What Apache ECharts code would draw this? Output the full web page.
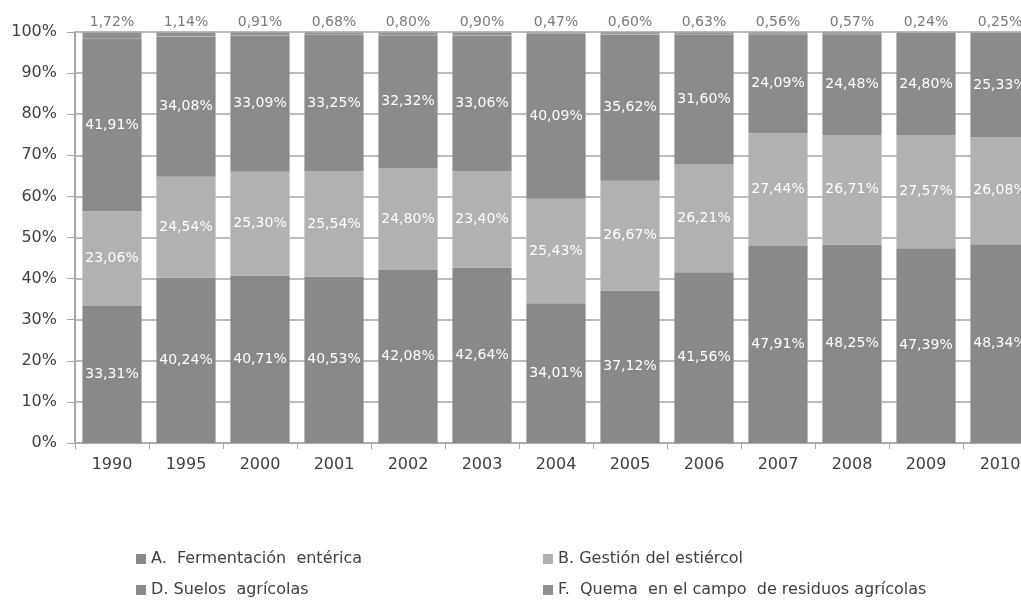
<!DOCTYPE html>
<html><head><meta charset="utf-8">
<script src="https://cdn.jsdelivr.net/npm/echarts@6/dist/echarts.min.js"></script>
<style>html,body{margin:0;padding:0;background:#fff;overflow:hidden;}#c{width:1037px;height:600px;}</style>
</head><body><div id="c"></div>
<script>
const years = ['1990','1995','2000','2001','2002','2003','2004','2005','2006','2007','2008','2009','2010'];
const seriesNames = ['A.  Fermentación  entérica','B. Gestión del estiércol','D. Suelos  agrícolas','F.  Quema  en el campo  de residuos agrícolas'];
const serA = [33.31,40.24,40.71,40.53,42.08,42.64,34.01,37.12,41.56,47.91,48.25,47.39,48.34];
const serB = [23.06,24.54,25.30,25.54,24.80,23.40,25.43,26.67,26.21,27.44,26.71,27.57,26.08];
const serD = [41.91,34.08,33.09,33.25,32.32,33.06,40.09,35.62,31.60,24.09,24.48,24.80,25.33];
const serF = [1.72,1.14,0.91,0.68,0.80,0.90,0.47,0.60,0.63,0.56,0.57,0.24,0.25];
const yTicks = [0,10,20,30,40,50,60,70,80,90,100];

const fmt = v => v.toFixed(2).replace('.', ',') + '%';
const font = 'DejaVu Sans, Verdana, sans-serif';
const inLabel = {show:true, position:'inside', color:'#fff', fontSize:14, fontFamily:font, formatter:p=>fmt(p.value)};

const legendBase = {orient:'vertical', top:551, height:48, padding:[0,5], itemGap:15, itemWidth:10, itemHeight:10, icon:'rect',
  itemStyle:{borderWidth:0}, textStyle:{fontSize:16, color:'#404040', fontFamily:font}};

const chart = echarts.init(document.getElementById('c'));
chart.setOption({
  animation:false,
  grid:{left:75, right:0, top:32, bottom:157},
  legend:[
    Object.assign({}, legendBase, {data:[seriesNames[0], seriesNames[2]], left:131}),
    Object.assign({}, legendBase, {data:[seriesNames[1], seriesNames[3]], left:538})
  ],
  xAxis:{type:'category', data:years,
    axisLine:{lineStyle:{color:'#a6a6a6', width:1.5}},
    axisTick:{show:true, alignWithLabel:false, length:6, lineStyle:{color:'#a6a6a6'}},
    axisLabel:{fontSize:16, color:'#404040', fontFamily:font, margin:14}},
  yAxis:{type:'value', min:0, max:100, interval:10,
    axisLine:{show:true, lineStyle:{color:'#a6a6a6', width:2}},
    axisTick:{show:true, length:8, lineStyle:{color:'#a6a6a6'}},
    axisLabel:{fontSize:16, color:'#404040', fontFamily:font, margin:18, formatter:v=>yTicks.includes(v)? v+'%':''},
    splitLine:{lineStyle:{color:'#a6a6a6', width:1.5}}},
  series:[
    {name:seriesNames[0], type:'bar', stack:'s', data:serA, barCategoryGap:'20%', itemStyle:{color:'#89898b'}, label:inLabel},
    {name:seriesNames[1], type:'bar', stack:'s', data:serB, itemStyle:{color:'#b1b1b3'}, label:inLabel},
    {name:seriesNames[2], type:'bar', stack:'s', data:serD, itemStyle:{color:'#8b8b8d'}, label:inLabel},
    {name:seriesNames[3], type:'bar', stack:'s', data:serF, itemStyle:{color:'#8f8f91', borderColor:'#a9a9ab', borderWidth:0.8},
      label:{show:true, position:'top', distance:3, color:'#7a7a7a', fontSize:14, fontFamily:font, formatter:p=>fmt(p.value)}}
  ]
});
</script></body></html>
